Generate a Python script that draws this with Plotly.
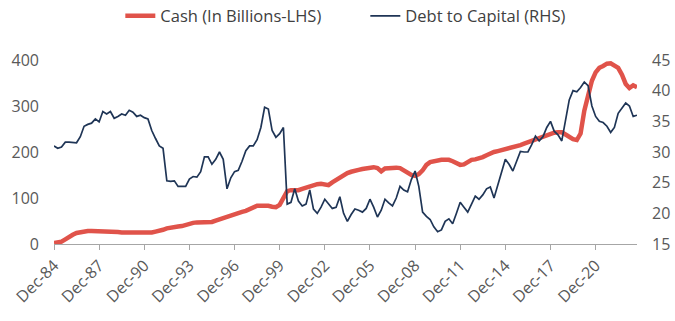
import pandas as pd
import plotly.graph_objects as go

# Quarterly observations, Dec-1984 through Sep-2023
quarters = pd.date_range("1984-12-01", periods=156, freq="3MS")

cash_bn = [
    2, 3, 5, 10, 16, 20, 24, 26, 27, 28, 28, 28, 28, 27, 27, 27,
    26, 26, 25, 25, 24, 24, 24, 24, 24, 25, 25, 27, 28, 31, 34, 36,
    37, 38, 39, 42, 44, 46, 47, 47, 47, 48, 48, 51, 54, 57, 59, 62,
    65, 68, 70, 72, 76, 80, 83, 83, 84, 83, 81, 80, 85, 98, 115, 117,
    117, 117, 120, 123, 124, 128, 130, 131, 130, 128, 134, 139, 143, 150, 154, 157,
    158, 161, 163, 165, 166, 167, 165, 158, 164, 165, 167, 166, 165, 160, 154, 150,
    148, 152, 160, 172, 178, 180, 183, 183, 183, 183, 180, 176, 172, 173, 178, 183,
    184, 186, 189, 193, 197, 200, 202, 204, 207, 209, 210, 211, 215, 218, 221, 224,
    227, 229, 233, 237, 240, 242, 243, 243, 238, 232, 228, 226, 240, 290, 325, 355,
    373, 383, 387, 392, 393, 389, 383, 368, 348, 339, 345, 341,
]

debt_to_capital = [
    31.0, 30.6, 30.8, 31.6, 31.6, 31.5, 31.5, 32.5, 34.2, 34.5, 34.7, 35.4, 34.9, 36.6, 36.2, 36.6,
    35.5, 35.8, 36.2, 36.0, 36.8, 36.5, 35.8, 36.0, 35.6, 35.4, 33.5, 32.2, 31.0, 30.6, 25.3, 25.2,
    25.3, 24.4, 24.4, 24.4, 25.6, 26.0, 25.9, 26.8, 29.2, 29.2, 28.0, 28.8, 30.0, 28.8, 24.0, 25.8,
    26.8, 27.0, 28.5, 30.2, 31.0, 31.0, 32.0, 34.0, 37.3, 37.0, 33.5, 32.4, 33.0, 34.0, 21.5, 21.8,
    24.0, 22.0, 21.2, 21.5, 23.8, 20.7, 20.0, 21.0, 22.3, 21.5, 20.8, 21.0, 22.7, 20.0, 18.7, 19.8,
    20.7, 20.5, 20.2, 20.8, 22.3, 21.0, 19.4, 20.5, 22.3, 21.7, 21.2, 22.5, 24.4, 23.8, 23.5, 25.5,
    26.9, 24.4, 20.2, 19.5, 19.0, 17.8, 17.0, 17.3, 18.7, 19.1, 18.3, 20.0, 21.8, 21.0, 20.2, 21.5,
    22.8, 22.3, 23.0, 24.0, 24.3, 22.5, 24.5, 26.5, 28.8, 28.0, 26.9, 28.5, 30.1, 30.0, 30.0, 31.2,
    32.6, 31.8, 32.5, 34.0, 35.0, 33.4, 32.8, 31.8, 35.0, 38.5, 40.0, 39.8, 40.5, 41.4, 40.8, 37.5,
    35.8, 35.0, 34.8, 34.2, 33.2, 34.0, 36.3, 37.2, 38.0, 37.5, 35.8, 36.0,
]

tick_dates = pd.date_range("1984-12-01", "2020-12-01", freq="36MS")
tick_text = [d.strftime("%b-%y") for d in tick_dates]

fig = go.Figure()
fig.add_trace(go.Scatter(
    x=quarters, y=cash_bn, name="Cash (In Billions-LHS)", mode="lines",
    line=dict(color="#E0534A", width=4.5), yaxis="y",
))
fig.add_trace(go.Scatter(
    x=quarters, y=debt_to_capital, name="Debt to Capital (RHS)", mode="lines",
    line=dict(color="#1F3556", width=1.7), yaxis="y2",
))

font_main = "Open Sans, Noto Sans, sans-serif"
tick_font = dict(size=16, color="#595959")
fig.update_layout(
    width=675, height=321,
    margin=dict(l=54, r=38, t=60, b=77),
    paper_bgcolor="white", plot_bgcolor="white",
    font=dict(family=font_main, color="#595959", size=16),
    showlegend=True,
    legend=dict(orientation="h", x=0.534, xanchor="center",
                yref="container", y=0.95, yanchor="middle",
                font=dict(size=16.5, color="#404040"), traceorder="normal",
                entrywidth=200, entrywidthmode="pixels"),
    xaxis=dict(
        type="date", range=[quarters[0], quarters[-1]],
        tickvals=tick_dates, ticktext=tick_text, tickangle=-45,
        showgrid=False, showline=True, linecolor="#A6A6A6", linewidth=1,
        ticks="outside", ticklen=5, tickcolor="#A6A6A6",
        tickfont=tick_font, zeroline=False, automargin=False,
    ),
    yaxis=dict(
        range=[0, 400], dtick=100, showgrid=False, zeroline=False, showline=False,
        tickfont=tick_font, ticklabelstandoff=14, automargin=False,
    ),
    yaxis2=dict(
        range=[15, 45], dtick=5, overlaying="y", side="right", showgrid=False,
        zeroline=False, showline=False, tickfont=tick_font,
        ticklabelstandoff=14, automargin=False,
    ),
)

fig.write_html("out.html")
